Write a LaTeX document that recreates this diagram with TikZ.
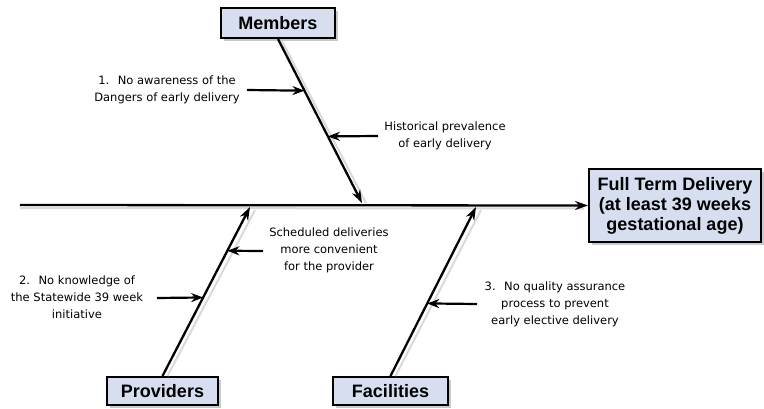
\documentclass[tikz,border=0pt]{standalone}
\usepackage{fontspec}
\setmainfont{Liberation Sans}
\newfontfamily\lblfont{DejaVu Sans}
\usetikzlibrary{arrows.meta,shadows,calc}
\definecolor{boxfill}{RGB}{214,222,240}
\begin{document}
\begin{tikzpicture}[x=1pt,y=-1pt,
 box/.style={draw=black, line width=2pt, fill=boxfill, font=\fontsize{18}{20}\selectfont\bfseries, inner sep=0pt, align=center,
   drop shadow={shadow xshift=3pt, shadow yshift=-3pt, fill=black!30, opacity=0.7}},
 lbl/.style={font=\lblfont\fontsize{11.5}{17}\selectfont, align=center, text=black},
 bone/.style={line width=2.3pt, -{Stealth[length=13pt,width=9pt]}},
 cause/.style={line width=2.2pt, -{Stealth[length=12pt,width=9pt]}},
 shade/.style={line width=2pt, draw=black!15}]
\useasboundingbox (0,0) rectangle (764,408);
% boxes
\node[box, minimum width=114pt, minimum height=30pt] (members) at (278,23) {Members};
\node[box, minimum width=111pt, minimum height=28pt] (prov) at (162.5,391) {Providers};
\node[box, minimum width=115pt, minimum height=28pt] (fac) at (390.5,391) {Facilities};
\node[box, minimum width=172pt, minimum height=73pt] (goal) at (675,205.5) {Full Term Delivery\\(at least 39 weeks\\gestational age)};
% coordinates
\coordinate (spstart) at (20,205);
\coordinate (mtip) at (362,203);
\coordinate (ptip) at (250,207);
\coordinate (ftip) at (476,207);
% shadows of bones
\draw[shade] ($(spstart)+(0,3)$) -- ($(goal.west)+(-4,3)$);
\draw[shade] ($(members.south)+(4,2)$) -- ($(mtip)+(4,0)$);
\draw[shade] ($(prov.north)+(5,0)$) -- ($(ptip)+(5,3)$);
\draw[shade] ($(fac.north)+(5,0)$) -- ($(ftip)+(5,3)$);
% bones
\draw[bone] (spstart) -- (goal.west);
\draw[bone] (members.south) -- (mtip);
\draw[bone] (prov.north) -- (ptip);
\draw[bone] (fac.north) -- (ftip);
% labels
\node[lbl] (l1) at (167,89.5) {1.~ No awareness of the\\Dangers of early delivery};
\node[lbl] (lh) at (445,136) {Historical prevalence\\of early delivery};
\node[lbl] (ls) at (329,250) {Scheduled deliveries\\more convenient\\for the provider};
\node[lbl] (l2) at (77,297) {2.~ No knowledge of\\the Statewide 39 week\\initiative};
\node[lbl] (l3) at (555,304) {3.~ No quality assurance\\process to prevent\\early elective delivery};
% cause arrows
\coordinate (t1) at (247,90);
\coordinate (th) at (378,136);
\coordinate (ts) at (263,251);
\coordinate (t2) at (157,298);
\coordinate (t3) at (477,304);
\draw[cause] (t1) -- ($(members.south)!{(90-38)/165}!(mtip)$);
\draw[cause] (th) -- ($(members.south)!{(136-38)/165}!(mtip)$);
\draw[cause] (ts) -- ($(ptip)!{(251-207)/170}!(prov.north)$);
\draw[cause] (t2) -- ($(ptip)!{(298-207)/170}!(prov.north)$);
\draw[cause] (t3) -- ($(ftip)!{(304-207)/170}!(fac.north)$);
\end{tikzpicture}
\end{document}
